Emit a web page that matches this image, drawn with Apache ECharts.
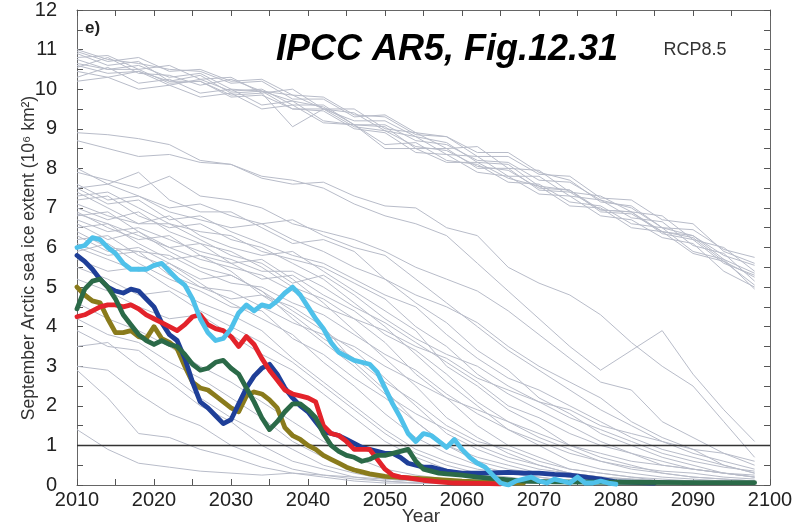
<!DOCTYPE html>
<html><head><meta charset="utf-8">
<script src="https://cdn.jsdelivr.net/npm/echarts@6/dist/echarts.min.js"></script>
<style>html,body{margin:0;padding:0;background:#fff}#c{width:805px;height:529px}</style>
</head><body><div id="c"></div>
<script>
// ---- axis / tick data ----
const xMin = 2010, xMax = 2100, xStep = 10;
const yMin = 0, yMax = 12, yStep = 1;
const thresholdYears = [2010, 2100];
const thresholdValues = [1, 1];

// ---- grey model runs (values at these years) ----
const greyYears = [2010,2014,2018,2022,2026,2030,2034,2038,2042,2046,2050,2054,2058,2062,2066,2070,2074,2078,2082,2086,2090,2094,2098];
const greyRuns = [
 [10.95,10.7,10.8,10.45,10.5,10.2,10.25,9.85,9.8,9.35,9.3,8.85,8.8,8.3,8.3,7.85,7.8,7.25,7.2,6.7,6.6,5.9,5.6],
 [10.8,10.85,10.5,10.6,10.25,10.3,9.9,10.0,9.5,9.5,9.0,8.9,8.5,8.55,8.0,7.95,7.4,7.3,6.9,6.8,6.2,6.0,5.4],
 [10.65,10.5,10.6,10.3,10.4,10.0,9.95,9.7,9.55,9.1,9.1,8.7,8.6,8.2,8.15,7.7,7.65,7.2,7.0,6.5,6.3,5.7,5.35],
 [10.55,10.8,10.4,10.35,10.1,10.25,9.95,9.85,9.5,9.4,8.95,8.8,8.35,8.3,7.8,7.8,7.3,7.2,6.75,6.65,6.05,5.85,5.15],
 [10.45,10.3,10.45,10.2,10.35,9.9,9.95,9.5,9.5,9.05,8.95,8.55,8.45,8.05,7.95,7.5,7.45,6.95,6.9,6.35,6.2,5.6,5.3],
 [10.3,10.55,10.15,10.25,9.9,10.0,9.6,9.7,9.2,9.1,8.6,8.65,8.2,8.1,7.65,7.6,7.15,7.05,6.6,6.5,5.9,5.7,4.95],
 [10.9,10.6,10.7,10.2,10.2,9.85,9.9,9.05,9.5,9.2,9.2,8.8,8.65,8.15,8.1,7.55,7.45,6.9,6.85,6.4,6.3,5.8,5.55],
 [10.2,10.3,10.0,10.1,9.8,9.9,9.5,9.6,9.15,9.1,8.5,8.5,8.15,8.15,7.75,7.55,7.05,7.0,6.5,6.4,5.85,5.65,5.05],
 [11.0,10.75,10.65,10.5,10.45,10.15,10.2,9.75,9.75,9.3,9.35,8.9,8.8,8.4,8.4,7.9,7.7,7.15,7.05,6.5,6.45,5.95,5.75],
 [10.6,10.4,10.45,10.1,10.25,9.95,10.0,9.6,9.6,9.1,9.05,8.5,8.5,8.0,8.0,7.45,7.4,6.95,6.9,6.4,6.25,5.65,5.25],
 [10.75,10.5,10.5,10.15,10.2,9.8,9.85,9.5,9.45,9.0,8.9,8.4,8.35,7.9,7.8,7.35,7.3,6.8,6.7,6.25,6.1,5.4,5.0],
 [8.9,8.85,8.75,8.6,8.2,8.1,7.8,7.7,7.5,7.1,6.8,6.6,6.3,5.6,4.9,4.2,3.5,2.9,3.4,3.9,2.8,1.9,1.1],
 [8.7,8.5,8.3,8.35,8.15,8.1,7.75,7.6,7.65,7.3,7.05,7.0,6.5,6.3,5.5,5.1,4.8,4.3,3.6,3.0,2.5,1.6,0.7],
 [7.9,7.7,7.5,7.8,7.3,7.2,7.0,6.6,6.4,6.2,5.9,5.5,5.2,4.9,4.4,3.8,3.2,2.6,2.4,1.6,1.2,0.8,0.5],
 [7.5,7.6,7.3,7.0,7.1,6.8,6.6,6.7,6.3,6.0,5.8,5.2,4.6,4.0,3.4,2.9,2.4,1.9,1.5,1.1,0.8,0.6,0.4],
 [8.0,7.6,7.9,7.2,6.9,6.9,6.5,6.1,6.2,5.9,5.2,4.8,4.5,4.1,3.5,3.0,2.6,2.2,1.6,1.2,0.9,0.5,0.3],
 [7.6,7.2,7.3,6.9,6.7,6.5,6.6,6.2,5.9,5.5,5.2,4.6,4.1,3.4,2.9,2.2,1.8,1.3,1.0,0.7,0.5,0.3,0.2],
 [7.4,7.0,6.6,6.8,6.3,6.0,5.8,5.9,5.4,4.9,4.4,3.9,3.0,2.5,1.9,1.5,1.0,0.7,0.5,0.3,0.2,0.15,0.1],
 [7.2,7.3,6.8,6.5,6.6,6.2,6.0,5.6,5.2,4.6,4.0,3.3,2.6,2.0,1.4,1.0,0.6,0.4,0.3,0.2,0.15,0.1,0.1],
 [7.0,6.7,6.9,6.4,6.1,5.9,5.5,5.0,4.7,4.2,3.6,2.8,2.2,1.5,1.0,0.7,0.4,0.3,0.2,0.1,0.1,0.05,0.05],
 [6.9,6.5,6.2,6.3,5.8,5.6,5.7,5.2,4.6,3.9,3.2,2.5,1.7,1.2,0.8,0.5,0.3,0.2,0.15,0.1,0.1,0.05,0.05],
 [6.8,6.9,6.4,6.0,6.1,5.6,5.2,5.3,4.8,4.4,3.8,3.4,2.8,2.1,1.6,1.2,0.9,0.6,0.4,0.3,0.2,0.15,0.1],
 [6.6,6.2,6.4,5.9,5.5,5.3,4.9,4.4,3.9,3.4,2.7,2.0,1.3,0.9,0.6,0.4,0.3,0.2,0.1,0.1,0.05,0.05,0.05],
 [6.5,6.6,6.1,5.7,5.8,5.4,4.8,4.5,4.0,3.1,2.4,1.6,1.0,0.6,0.4,0.3,0.2,0.1,0.1,0.05,0.05,0.05,0.05],
 [6.3,5.9,6.0,5.6,5.2,5.3,4.9,4.2,3.6,3.0,2.3,1.8,1.4,1.0,0.7,0.5,0.3,0.2,0.15,0.1,0.1,0.05,0.05],
 [6.2,6.3,5.8,5.5,5.0,4.7,4.8,4.3,3.7,3.2,2.6,2.1,1.5,1.1,0.9,0.6,0.4,0.3,0.2,0.15,0.1,0.1,0.05],
 [6.0,5.7,5.4,5.6,5.1,4.6,4.2,3.8,3.1,2.5,1.8,1.2,0.8,0.5,0.3,0.2,0.1,0.1,0.05,0.05,0.05,0.05,0.05],
 [5.9,6.1,5.6,5.2,4.9,4.5,4.4,3.7,3.3,2.7,2.2,1.6,1.0,0.7,0.5,0.3,0.2,0.1,0.1,0.05,0.05,0.05,0.05],
 [5.7,5.4,5.5,5.0,4.6,4.3,3.9,3.2,2.6,2.0,1.4,0.9,0.6,0.4,0.3,0.2,0.1,0.1,0.05,0.05,0.05,0.05,0.05],
 [7.5,7.1,7.2,6.7,6.8,6.4,6.1,5.8,5.6,5.2,4.8,4.5,3.8,3.2,2.7,2.4,2.0,1.6,1.2,0.9,0.7,0.5,0.3],
 [7.3,7.4,7.0,6.6,6.4,6.3,5.9,5.7,5.5,5.1,4.7,4.0,3.5,2.8,2.3,1.9,1.5,1.1,0.8,0.6,0.4,0.3,0.2],
 [6.7,6.4,6.5,6.2,5.9,5.7,5.4,5.4,5.0,4.5,4.1,3.6,3.1,2.6,2.0,1.7,1.3,1.0,0.8,0.5,0.4,0.3,0.25],
 [7.1,6.8,6.6,6.6,6.2,5.8,5.6,5.1,5.3,4.8,4.2,3.7,3.3,3.0,2.5,2.1,1.7,1.4,1.1,0.8,0.6,0.45,0.35],
 [6.4,6.0,5.9,5.8,5.4,5.1,5.0,4.6,4.3,3.8,3.3,2.9,2.3,1.8,1.4,1.1,0.8,0.6,0.45,0.35,0.3,0.2,0.15],
 [5.5,5.2,4.8,4.9,4.4,4.0,3.6,3.1,2.5,1.9,1.3,0.8,0.5,0.3,0.2,0.1,0.1,0.05,0.05,0.05,0.05,0.05,0.05],
 [5.2,4.9,4.5,4.2,4.3,3.8,3.3,2.9,2.3,1.7,1.1,0.7,0.4,0.25,0.15,0.1,0.05,0.05,0.05,0.05,0.05,0.05,0.05],
 [6.1,5.8,5.9,5.3,5.0,4.9,4.5,4.1,3.8,3.5,3.0,2.6,2.2,1.9,1.6,1.3,1.0,0.8,0.6,0.5,0.4,0.3,0.2],
 [6.85,6.6,6.3,6.0,5.7,5.5,5.3,4.9,4.5,4.2,3.9,3.5,3.2,2.7,2.4,2.1,1.9,1.5,1.3,1.1,0.9,0.8,0.6],
 [4.6,4.2,3.9,3.5,3.0,2.6,2.1,1.6,1.1,0.7,0.4,0.25,0.15,0.1,0.05,0.05,0.05,0.05,0.05,0.05,0.05,0.05,0.05],
 [4.2,3.8,3.6,3.1,2.7,2.2,1.7,1.1,0.7,0.4,0.2,0.1,0.05,0.05,0.05,0.05,0.05,0.05,0.05,0.05,0.05,0.05,0.05],
 [3.9,3.5,3.4,2.8,2.2,1.7,1.3,0.9,0.5,0.3,0.15,0.1,0.05,0.05,0.05,0.05,0.05,0.05,0.05,0.05,0.05,0.05,0.05],
 [3.5,3.6,3.0,2.6,2.0,1.6,1.0,0.6,0.4,0.2,0.1,0.05,0.05,0.05,0.05,0.05,0.05,0.05,0.05,0.05,0.05,0.05,0.05],
 [3.0,2.9,2.3,1.8,1.5,1.0,0.7,0.4,0.25,0.15,0.1,0.05,0.05,0.05,0.05,0.05,0.05,0.05,0.05,0.05,0.05,0.05,0.05],
 [2.9,2.2,1.3,1.2,0.9,0.7,0.45,0.3,0.2,0.1,0.05,0.05,0.05,0.05,0.05,0.05,0.05,0.05,0.05,0.05,0.05,0.05,0.05],
 [1.4,0.9,0.55,0.45,0.35,0.3,0.25,0.3,0.25,0.2,0.15,0.1,0.05,0.05,0.05,0.05,0.05,0.05,0.05,0.05,0.05,0.05,0.05]
];

// ---- highlighted runs ----
const lightBlueYears = [2010,2011,2012,2013,2014,2015,2016,2017,2018,2019,2020,2021,2022,2023,2024,2025,2026,2027,2028,2029,2030,2031,2032,2033,2034,2035,2036,2037,2038,2039,2040,2041,2042,2043,2044,2045,2046,2047,2048,2049,2050,2051,2052,2053,2054,2055,2056,2057,2058,2059,2060,2061,2062,2063,2064,2065,2066,2067,2068,2069,2070,2071,2072,2073,2074,2075,2076,2077,2078,2079,2080];
const lightBlueValues = [6.0,6.05,6.25,6.2,6.0,5.85,5.6,5.45,5.45,5.45,5.55,5.6,5.4,5.2,5.05,4.7,4.2,3.85,3.65,3.7,3.95,4.35,4.55,4.4,4.55,4.5,4.65,4.85,5.0,4.8,4.5,4.2,3.95,3.6,3.35,3.25,3.15,3.1,3.05,2.85,2.45,2.05,1.7,1.3,1.1,1.3,1.25,1.1,0.95,1.15,0.9,0.7,0.55,0.45,0.25,0.05,0.0,0.1,0.15,0.2,0.1,0.05,0.15,0.1,0.05,0.2,0.05,0.05,0.1,0.05,0.02];
const darkBlueYears = [2010,2011,2012,2013,2014,2015,2016,2017,2018,2019,2020,2021,2022,2023,2024,2025,2026,2027,2028,2029,2030,2031,2032,2033,2034,2035,2036,2037,2038,2039,2040,2041,2042,2043,2044,2045,2046,2047,2048,2049,2050,2051,2052,2053,2054,2055,2056,2057,2058,2060,2063,2066,2068,2070,2072,2074,2076,2078,2080,2085];
const darkBlueValues = [5.8,5.65,5.45,5.2,5.0,4.9,4.85,4.95,4.9,4.7,4.5,4.1,3.8,3.65,3.2,2.6,2.1,1.95,1.75,1.55,1.65,2.05,2.45,2.75,2.95,3.05,2.8,2.45,2.2,2.0,1.85,1.6,1.35,1.3,1.25,1.15,1.05,0.95,0.9,0.85,0.8,0.8,0.7,0.55,0.5,0.45,0.45,0.4,0.35,0.3,0.3,0.32,0.3,0.3,0.27,0.25,0.2,0.15,0.08,0.05];
const redYears = [2010,2011,2012,2013,2014,2015,2016,2017,2018,2019,2020,2021,2022,2023,2024,2025,2026,2027,2028,2029,2030,2031,2032,2033,2034,2035,2036,2037,2038,2039,2040,2041,2042,2043,2044,2045,2046,2047,2048,2049,2050,2051,2052,2053,2055,2057,2059,2062,2065];
const redValues = [4.25,4.3,4.4,4.5,4.55,4.55,4.5,4.55,4.45,4.3,4.2,4.1,4.0,3.9,4.05,4.25,4.3,4.05,3.95,3.9,3.75,3.5,3.75,3.55,3.2,2.9,2.65,2.4,2.3,2.25,2.2,2.1,1.5,1.3,1.25,1.1,0.9,0.9,0.9,0.65,0.4,0.25,0.2,0.18,0.12,0.08,0.05,0.04,0.03];
const greenYears = [2010,2011,2012,2013,2014,2015,2016,2017,2018,2019,2020,2021,2022,2023,2024,2025,2026,2027,2028,2029,2030,2031,2032,2033,2034,2035,2036,2037,2038,2039,2040,2041,2042,2043,2044,2045,2046,2047,2048,2049,2050,2051,2052,2053,2054,2055,2056,2057,2058,2060,2062,2065,2068,2072,2080,2090,2098];
const greenValues = [4.45,4.95,5.15,5.2,5.0,4.7,4.3,4.05,3.8,3.65,3.55,3.65,3.55,3.5,3.3,3.05,2.9,2.95,3.1,3.15,2.95,2.8,2.45,2.1,1.7,1.4,1.6,1.85,2.05,2.05,1.9,1.7,1.3,1.0,0.85,0.75,0.7,0.6,0.65,0.75,0.75,0.8,0.85,0.9,0.6,0.4,0.35,0.3,0.28,0.25,0.2,0.15,0.1,0.08,0.07,0.06,0.06];
const oliveYears = [2010,2011,2012,2013,2014,2015,2016,2017,2018,2019,2020,2021,2022,2023,2024,2025,2026,2027,2028,2029,2030,2031,2032,2033,2034,2035,2036,2037,2038,2039,2040,2041,2042,2043,2044,2045,2046,2047,2048,2050,2053,2056,2060,2065,2068];
const oliveValues = [5.0,4.8,4.65,4.6,4.2,3.85,3.85,3.9,3.75,3.7,4.0,3.7,3.6,3.45,3.0,2.6,2.45,2.4,2.25,2.1,1.95,1.85,2.25,2.35,2.3,2.15,1.95,1.45,1.25,1.15,1.0,0.9,0.75,0.65,0.55,0.45,0.38,0.33,0.28,0.22,0.18,0.15,0.1,0.06,0.05];

const pairs = (xs, ys) => xs.map((x, i) => [x, ys[i]]);

const chart = echarts.init(document.getElementById('c'), null, {renderer: 'canvas'});
const FONT = 'Liberation Sans, Arial, sans-serif';
const axisLineStyle = {color: '#666', width: 1};
const mkX = (pos, labels) => ({
  type: 'value', position: pos, min: xMin, max: xMax, interval: xStep,
  axisLine: {show: true, onZero: false, lineStyle: axisLineStyle},
  axisTick: {show: true, inside: true, length: 6, lineStyle: {color: '#555'}},
  minorTick: {show: true, splitNumber: 2, length: 6, lineStyle: {color: '#555'}},
  axisLabel: {show: labels, color: '#222', fontSize: 20, fontFamily: FONT, margin: 5, formatter: v => String(v)},
  splitLine: {show: false}
});
const mkY = (pos, labels) => ({
  type: 'value', position: pos, min: yMin, max: yMax, interval: yStep,
  axisLine: {show: true, onZero: false, lineStyle: axisLineStyle},
  axisTick: {show: true, inside: true, length: 6, lineStyle: {color: '#555'}},
  minorTick: {show: true, splitNumber: 2, length: 6, lineStyle: {color: '#555'}},
  axisLabel: {show: labels, color: '#222', fontSize: 20, fontFamily: FONT, margin: 20},
  splitLine: {show: false}
});

const series = [];
greyRuns.forEach((run, i) => {
  series.push({type: 'line', name: 'model' + i, data: pairs(greyYears, run), symbol: 'none',
    lineStyle: {color: '#b8bcc9', width: 1}, silent: true, z: 1});
});
series.push({type: 'line', name: 'threshold', data: pairs(thresholdYears, thresholdValues), symbol: 'none',
  lineStyle: {color: '#333', width: 1.5}, z: 2});
const colored = [
  ['olive', oliveYears, oliveValues, '#8a7b1c'],
  ['darkblue', darkBlueYears, darkBlueValues, '#1f3f98'],
  ['red', redYears, redValues, '#e3232b'],
  ['green', greenYears, greenValues, '#2b6a48'],
  ['lightblue', lightBlueYears, lightBlueValues, '#4fc1ea']
];
colored.forEach(([n, xs, ys, c], i) => {
  series.push({type: 'line', name: n, data: pairs(xs, ys), symbol: 'none',
    lineStyle: {color: c, width: 4.8, join: 'round', cap: 'round'}, z: 3 + i});
});

chart.setOption({
  animation: false,
  backgroundColor: '#fff',
  grid: {left: 77, right: 35, top: 10, bottom: 44, containLabel: false},
  xAxis: [mkX('bottom', true), mkX('top', false)],
  yAxis: [mkY('left', true), mkY('right', false)],
  series: series,
  graphic: [
    {type: 'text', x: 85, y: 28, style: {text: 'e)', font: 'bold 17px ' + FONT, fill: '#222', textVerticalAlign: 'middle'}},
    {type: 'text', x: 447, y: 50, style: {text: 'IPCC AR5, Fig.12.31', font: 'italic bold 36px ' + FONT, fill: '#000', textAlign: 'center', textVerticalAlign: 'middle'}},
    {type: 'text', x: 695, y: 50, style: {text: 'RCP8.5', font: '18px ' + FONT, fill: '#333', textAlign: 'center', textVerticalAlign: 'middle'}},
    {type: 'text', x: 29, y: 258, rotation: Math.PI / 2, style: {text: 'September Arctic sea ice extent (10⁶ km²)', font: '17.5px ' + FONT, fill: '#333', textAlign: 'center', textVerticalAlign: 'middle'}},
    {type: 'text', x: 421, y: 517, style: {text: 'Year', font: '19px ' + FONT, fill: '#333', textAlign: 'center', textVerticalAlign: 'middle'}}
  ]
});
</script></body></html>
